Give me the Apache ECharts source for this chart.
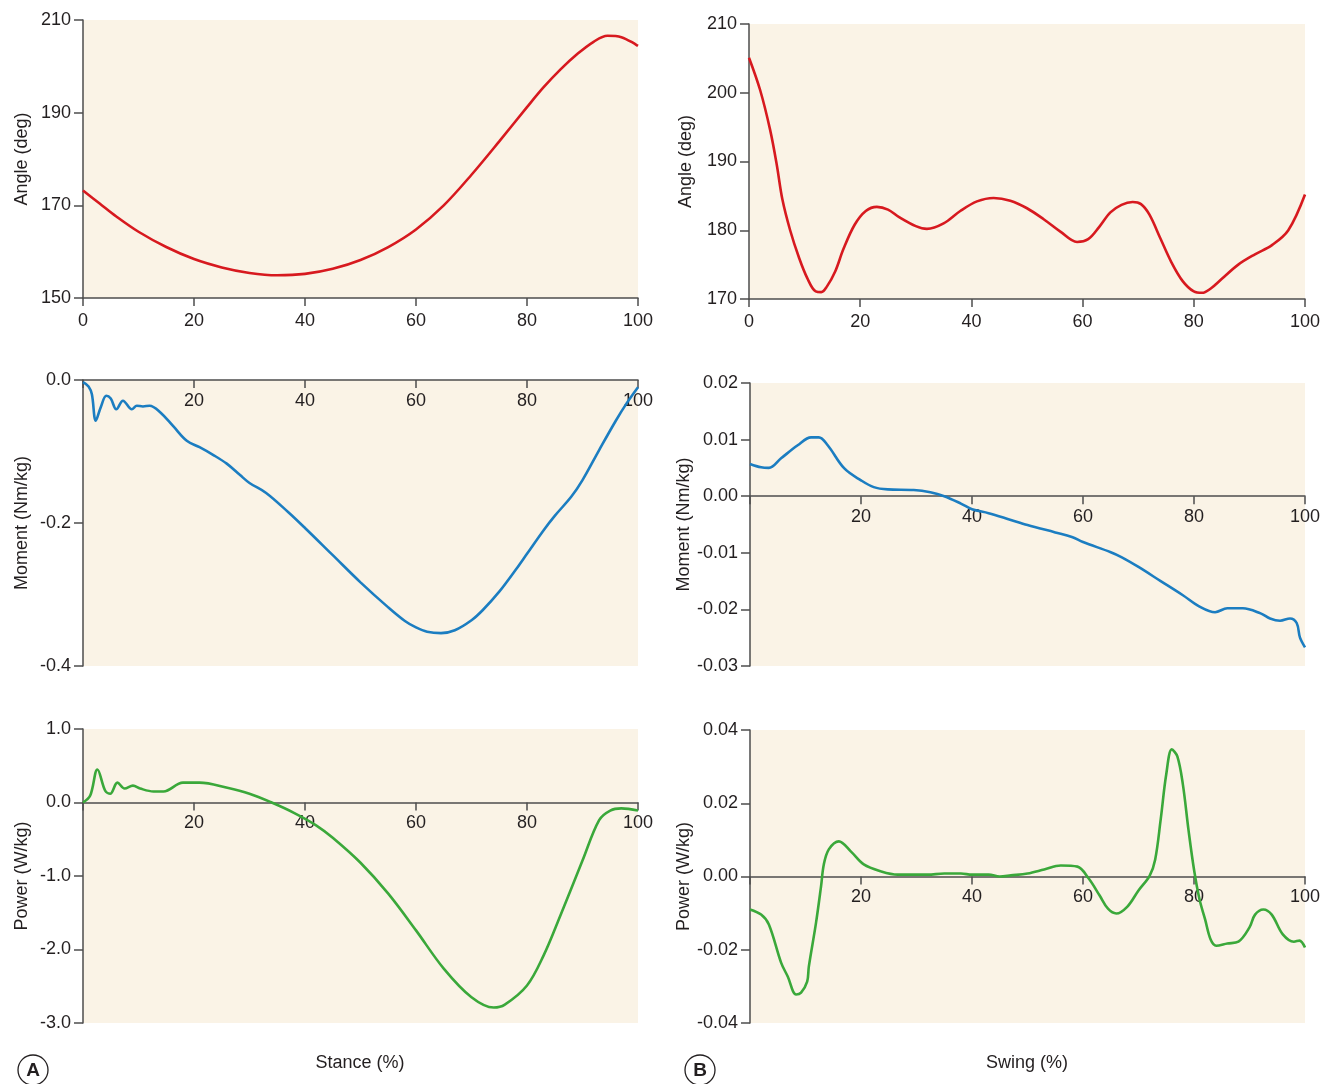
<!DOCTYPE html>
<html>
<head>
<meta charset="utf-8">
<script src="https://cdn.jsdelivr.net/npm/echarts@6/dist/echarts.min.js"></script>
<style>
  html, body { margin: 0; padding: 0; background: #fff; }
  #chart { width: 1329px; height: 1084px; }
</style>
</head>
<body>
<div id="chart"></div>
<script>
// Hip joint kinematics/kinetics over stance (A) and swing (B), % of phase.

// Stance — joint angle (deg)
const stanceAnglePct = [0, 3, 6, 10, 15, 20, 25, 30, 35, 40, 45, 50, 55, 60, 65, 70, 75, 80, 83, 86, 89, 92, 94.5, 97, 100];
const stanceAngleVal = [173.2, 170.4, 167.6, 164.3, 161.0, 158.4, 156.6, 155.4, 154.9, 155.2, 156.3, 158.2, 161.0, 164.8, 170.0, 176.6, 183.8, 191.2, 195.5, 199.3, 202.6, 205.3, 206.6, 206.3, 204.4];

// Swing — joint angle (deg)
const swingAnglePct = [0, 2, 3.8, 5, 6, 7.4, 9, 10.5, 12, 13, 14, 15.5, 17, 19, 21, 23, 25, 27, 30, 32, 35, 38, 41, 44, 47, 50, 53, 56, 59, 61, 63, 65, 67, 69, 70.5, 72, 74, 76, 78, 80, 81.5, 83, 85, 88, 91, 94, 97, 100];
const swingAngleVal = [205.1, 200.4, 194.6, 189.5, 184.5, 180.0, 176.0, 173.0, 171.1, 171.0, 171.8, 174.0, 177.3, 180.8, 182.8, 183.4, 183.0, 181.9, 180.6, 180.2, 181.0, 182.8, 184.2, 184.7, 184.3, 183.2, 181.6, 179.8, 178.3, 178.7, 180.5, 182.6, 183.7, 184.1, 183.8, 182.3, 178.8, 175.3, 172.6, 171.1, 170.9, 171.5, 172.9, 175.0, 176.5, 177.8, 180.0, 185.2];

// Stance — joint moment (Nm/kg)
const stanceMomentPct = [0, 1, 1.6, 2.3, 3.2, 4.2, 5, 6, 7.2, 8.8, 9.7, 10.8, 12, 13.9, 16.3, 18.7, 21, 23.5, 25.9, 28.3, 30, 33, 37, 40, 45, 50, 55, 58, 60, 62, 64.5, 67, 70, 72, 75, 78, 80, 83, 85, 88, 90, 93, 96, 98, 100];
const stanceMomentVal = [-0.003, -0.009, -0.02, -0.057, -0.038, -0.022, -0.026, -0.041, -0.029, -0.041, -0.036, -0.037, -0.036, -0.045, -0.065, -0.085, -0.094, -0.105, -0.117, -0.133, -0.144, -0.158, -0.185, -0.207, -0.245, -0.283, -0.318, -0.337, -0.346, -0.352, -0.354, -0.350, -0.336, -0.322, -0.296, -0.265, -0.243, -0.210, -0.190, -0.163, -0.140, -0.098, -0.057, -0.032, -0.010];

// Swing — joint moment (Nm/kg)
const swingMomentPct = [0, 2, 3.4, 5.6, 8.6, 11, 12.4, 14, 17, 20, 22.3, 24.8, 29.5, 32.5, 35, 38, 40, 43, 47, 50, 55, 58, 60, 65, 67, 70, 74, 78, 81, 83.8, 86, 88.8, 92, 93.7, 95.5, 97.3, 98.5, 99.1, 100];
const swingMomentVal = [0.0057, 0.0051, 0.0050, 0.0067, 0.0090, 0.0104, 0.0104, 0.0090, 0.0049, 0.0028, 0.0016, 0.0012, 0.0011, 0.0007, 0.0000, -0.0013, -0.0023, -0.0030, -0.0042, -0.0051, -0.0064, -0.0072, -0.0081, -0.0099, -0.0108, -0.0125, -0.0150, -0.0175, -0.0195, -0.0205, -0.0198, -0.0198, -0.0207, -0.0216, -0.0220, -0.0216, -0.0224, -0.0250, -0.0267];

// Stance — joint power (W/kg)
const stancePowerPct = [0, 1.3, 2.6, 4, 4.9, 6.2, 7.5, 9, 10.3, 12.7, 14.5, 18, 21, 26, 30, 34, 38, 42, 45, 50, 55, 60, 65, 70, 74, 76, 80, 83, 86, 90, 93, 95, 97, 100];
const stancePowerVal = [0.0, 0.095, 0.45, 0.16, 0.12, 0.27, 0.19, 0.23, 0.19, 0.15, 0.15, 0.27, 0.27, 0.20, 0.12, 0.0, -0.14, -0.31, -0.48, -0.82, -1.24, -1.74, -2.26, -2.65, -2.79, -2.75, -2.49, -2.08, -1.54, -0.79, -0.24, -0.11, -0.08, -0.11];

// Swing — joint power (W/kg)
const swingPowerPct = [0, 2, 3.4, 5.6, 6.8, 8.3, 9.2, 10.3, 10.6, 11.9, 12.8, 13.3, 14.2, 16, 18.2, 20.5, 23.6, 26.6, 29.5, 32, 35, 38, 40, 43, 45, 47, 50, 53, 56, 59, 61, 63, 64.5, 66, 68, 70, 72, 73, 74, 75, 76, 77, 78, 79, 80, 81, 82, 83, 84, 86, 88, 90, 91, 92.5, 94, 96, 98, 99, 100];
const swingPowerVal = [-0.0090, -0.0104, -0.0131, -0.0235, -0.0273, -0.0322, -0.0317, -0.0287, -0.0246, -0.0126, -0.0027, 0.0033, 0.0074, 0.0096, 0.0068, 0.0033, 0.0014, 0.0005, 0.0005, 0.0005, 0.0008, 0.0008, 0.0005, 0.0005, 0.0000, 0.0003, 0.0008, 0.0019, 0.0030, 0.0027, -0.0005, -0.0052, -0.0088, -0.0101, -0.0082, -0.0038, 0.0002, 0.0046, 0.0156, 0.0279, 0.0347, 0.0328, 0.0251, 0.0128, 0.0019, -0.0063, -0.0117, -0.0172, -0.0189, -0.0183, -0.0178, -0.0139, -0.0104, -0.0090, -0.0104, -0.0158, -0.0178, -0.0175, -0.0194];

// Axis tick settings
const pctTicks = { min: 0, max: 100, interval: 20 };
const panelTitles = ['Angle (deg)', 'Angle (deg)', 'Moment (Nm/kg)', 'Moment (Nm/kg)', 'Power (W/kg)', 'Power (W/kg)'];
const yRanges = [
  { min: 150, max: 210, interval: 20, digits: 0 },
  { min: 170, max: 210, interval: 10, digits: 0 },
  { min: -0.4, max: 0, interval: 0.2, digits: 1 },
  { min: -0.03, max: 0.02, interval: 0.01, digits: 2 },
  { min: -3, max: 1, interval: 1, digits: 1 },
  { min: -0.04, max: 0.04, interval: 0.02, digits: 2 }
];

const pair = (xs, ys) => xs.map((x, i) => [x, ys[i]]);
const seriesData = [
  pair(stanceAnglePct, stanceAngleVal),
  pair(swingAnglePct, swingAngleVal),
  pair(stanceMomentPct, stanceMomentVal),
  pair(swingMomentPct, swingMomentVal),
  pair(stancePowerPct, stancePowerVal),
  pair(swingPowerPct, swingPowerVal)
];
const lineColors = ['#d7191f', '#d7191f', '#1b7dc1', '#1b7dc1', '#3aa83a', '#3aa83a'];

const FONT = "'Liberation Sans', Arial, sans-serif";
const FS = 18;
const TEXT = '#231f20';
const AXIS = '#4d4d4d';

const grids = [
  { left: 83, top: 20, width: 555, height: 278 },
  { left: 749, top: 24, width: 556, height: 275 },
  { left: 83, top: 380, width: 555, height: 286 },
  { left: 750, top: 383, width: 555, height: 283 },
  { left: 83, top: 729, width: 555, height: 294 },
  { left: 750, top: 730, width: 555, height: 293 }
].map(g => Object.assign({ show: true, backgroundColor: '#faf3e6', borderWidth: 0 }, g));

// The percent axis sits on the zero line of each panel: shift it up from the
// grid's bottom edge by the pixel distance between the y minimum and zero.
function zeroOffset(i) {
  const r = yRanges[i];
  if (r.min > 0 || r.max < 0) return 0;
  return -grids[i].height * (0 - r.min) / (r.max - r.min);
}

const xAxes = grids.map((g, i) => {
  const atTop = yRanges[i].max === 0;
  const onBottomEdge = zeroOffset(i) === 0 && !atTop;
  return {
    type: 'value', gridIndex: i,
    position: atTop ? 'top' : 'bottom',
    offset: atTop ? 0 : zeroOffset(i),
    min: pctTicks.min, max: pctTicks.max, interval: pctTicks.interval,
    axisLine: { onZero: false, lineStyle: { color: AXIS, width: 1.5 } },
    axisTick: { show: true, inside: atTop, length: 8, lineStyle: { color: AXIS, width: 1.5 } },
    axisLabel: {
      inside: atTop, margin: onBottomEdge ? 14 : 12, fontFamily: FONT, fontSize: FS, color: TEXT,
      formatter: v => (i >= 2 && v === 0) ? '' : String(v)
    },
    splitLine: { show: false }
  };
});

const yAxes = grids.map((g, i) => ({
  type: 'value', gridIndex: i,
  min: yRanges[i].min, max: yRanges[i].max, interval: yRanges[i].interval,
  name: panelTitles[i], nameLocation: 'middle', nameGap: i % 2 === 0 ? 52 : 54,
  nameTextStyle: { fontFamily: FONT, fontSize: FS, color: TEXT },
  axisLine: { onZero: false, lineStyle: { color: AXIS, width: 1.5 } },
  axisTick: { show: true, length: 9, lineStyle: { color: AXIS, width: 1.5 } },
  axisLabel: {
    margin: 12, fontFamily: FONT, fontSize: FS, color: TEXT,
    formatter: v => Number(v).toFixed(yRanges[i].digits)
  },
  splitLine: { show: false }
}));

const series = seriesData.map((d, i) => ({
  type: 'line', xAxisIndex: i, yAxisIndex: i,
  data: d, smooth: 0.35, showSymbol: false, symbol: 'none',
  lineStyle: { color: lineColors[i], width: 2.6 },
  animation: false
}));

const chart = echarts.init(document.getElementById('chart'), null, { renderer: 'canvas' });
chart.setOption({
  backgroundColor: '#ffffff',
  animation: false,
  grid: grids,
  xAxis: xAxes,
  yAxis: yAxes,
  series: series,
  graphic: [
    { type: 'text', x: 360, y: 1063, style: { text: 'Stance (%)', font: FS + "px " + FONT, fill: TEXT, align: 'center', verticalAlign: 'middle' } },
    { type: 'text', x: 1027, y: 1063, style: { text: 'Swing (%)', font: FS + "px " + FONT, fill: TEXT, align: 'center', verticalAlign: 'middle' } },
    { type: 'circle', shape: { cx: 33, cy: 1070, r: 15 }, style: { fill: 'none', stroke: TEXT, lineWidth: 1.3 } },
    { type: 'text', x: 33, y: 1071, style: { text: 'A', font: "bold 19px " + FONT, fill: TEXT, align: 'center', verticalAlign: 'middle' } },
    { type: 'circle', shape: { cx: 700, cy: 1070, r: 15 }, style: { fill: 'none', stroke: TEXT, lineWidth: 1.3 } },
    { type: 'text', x: 700, y: 1071, style: { text: 'B', font: "bold 19px " + FONT, fill: TEXT, align: 'center', verticalAlign: 'middle' } }
  ]
});
</script>
</body>
</html>
